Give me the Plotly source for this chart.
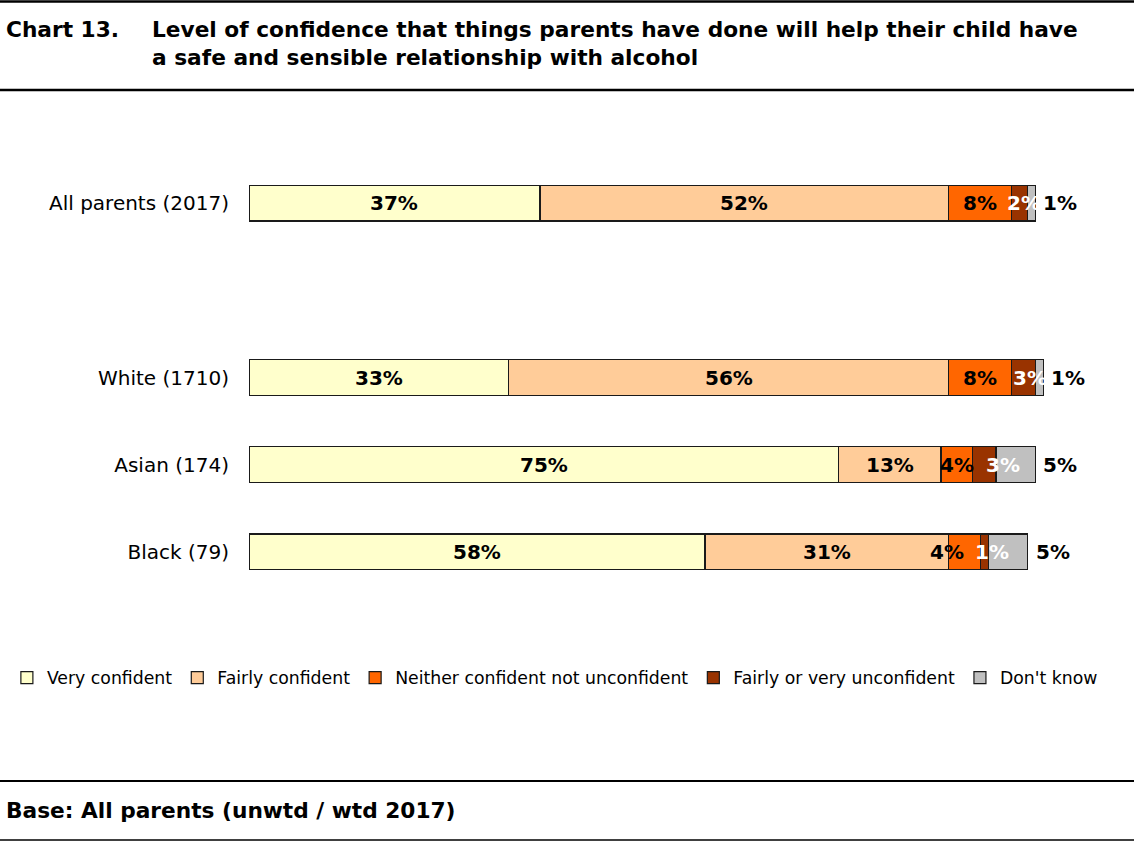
import plotly.graph_objects as go

# Survey groups (with bases) and their vertical slots; slot 3 is left empty
categories = ["All parents (2017)", "White (1710)", "Asian (174)", "Black (79)"]
slots = [4, 2, 1, 0]

series_names = [
    "Very confident",
    "Fairly confident",
    "Neither confident not unconfident",
    "Fairly or very unconfident",
    "Don't know",
]
very_confident = [37, 33, 75, 58]
fairly_confident = [52, 56, 13, 31]
neither = [8, 8, 4, 4]
unconfident = [2, 3, 3, 1]
dont_know = [1, 1, 5, 5]

series_values = [very_confident, fairly_confident, neither, unconfident, dont_know]
series_colors = ["#FFFFCC", "#FFCC99", "#FF6600", "#993300", "#C0C0C0"]
label_colors = ["black", "black", "black", "white", None]

# Pixel nudges for crowded labels: (category index, series index) -> x shift
label_nudges = {(2, 3): 19, (3, 2): -18, (3, 3): 8, (0, 3): 4, (1, 3): 6}

W, H = 1134, 841
L, R, T, B = 249, 20.4, 116.4, 201.9
PW, PH = W - L - R, H - T - B

LABEL_FONT = "DejaVu Sans"
TITLE_FONT = "DejaVu Sans"


def px_x(p):
    return (p - L) / PW


def px_y(p):
    return (H - B - p) / PH


fig = go.Figure()
for name, vals, col in zip(series_names, series_values, series_colors):
    fig.add_trace(go.Bar(
        name=name, x=vals, y=slots, orientation="h", width=0.41,
        marker=dict(color=col, line=dict(color="#1a1a1a", width=1.2)),
        hoverinfo="skip",
    ))

annotations = []
for i, y in enumerate(slots):
    start = 0
    for k, vals in enumerate(series_values):
        v = vals[i]
        if label_colors[k] is not None:
            annotations.append(dict(
                x=start + v / 2, y=y, xref="x", yref="y", text=f"{v}%",
                showarrow=False, xanchor="center", yanchor="middle",
                xshift=label_nudges.get((i, k), 0),
                font=dict(family=LABEL_FONT, size=20, color=label_colors[k], weight="bold"),
            ))
        else:
            annotations.append(dict(
                x=start + v, y=y, xref="x", yref="y", text=f"{v}%",
                showarrow=False, xanchor="left", yanchor="middle", xshift=6,
                font=dict(family=LABEL_FONT, size=20, color="black", weight="bold"),
            ))
        start += v

# Title block
annotations.append(dict(
    x=px_x(4), y=px_y(15), xref="paper", yref="paper", text="<b>Chart 13.</b>",
    showarrow=False, xanchor="left", yanchor="top", align="left",
    font=dict(family=TITLE_FONT, size=21.7, color="black"),
))
annotations.append(dict(
    x=px_x(150), y=px_y(15), xref="paper", yref="paper",
    text="<b>Level of confidence that things parents have done will help their child have"
         "<br>a safe and sensible relationship with alcohol</b>",
    showarrow=False, xanchor="left", yanchor="top", align="left",
    font=dict(family=TITLE_FONT, size=21.7, color="black"),
))
annotations.append(dict(
    x=px_x(4), y=px_y(811), xref="paper", yref="paper",
    text="<b>Base: All parents (unwtd / wtd 2017)</b>",
    showarrow=False, xanchor="left", yanchor="middle", align="left",
    font=dict(family=TITLE_FONT, size=21.7, color="black"),
))

# Horizontal rules framing the title and base note
shapes = []
for yp, lw in [(2, 2.5), (90.5, 2.5), (781, 2), (840, 1.5)]:
    shapes.append(dict(
        type="line", xref="paper", yref="paper",
        x0=px_x(0), x1=px_x(W), y0=px_y(yp), y1=px_y(yp),
        line=dict(color="black", width=lw),
    ))

fig.update_layout(
    width=W, height=H,
    margin=dict(l=L, r=R, t=T, b=B, pad=0, autoexpand=False),
    barmode="stack",
    plot_bgcolor="white", paper_bgcolor="white",
    xaxis=dict(range=[0, 110], visible=False, fixedrange=True, automargin=False),
    yaxis=dict(
        range=[-1, 5], tickmode="array", tickvals=slots, ticktext=categories,
        showgrid=False, zeroline=False, showline=False, ticks="",
        ticklabelstandoff=19, automargin=False,
        tickfont=dict(family=LABEL_FONT, size=20, color="black"),
    ),
    legend=dict(
        orientation="h", x=px_x(7), y=px_y(678), xanchor="left", yanchor="middle",
        font=dict(family=LABEL_FONT, size=17.3, color="black"),
        itemwidth=30, traceorder="normal", bgcolor="rgba(0,0,0,0)",
    ),
    annotations=annotations,
    shapes=shapes,
    showlegend=True,
)

fig.write_html("out.html")
